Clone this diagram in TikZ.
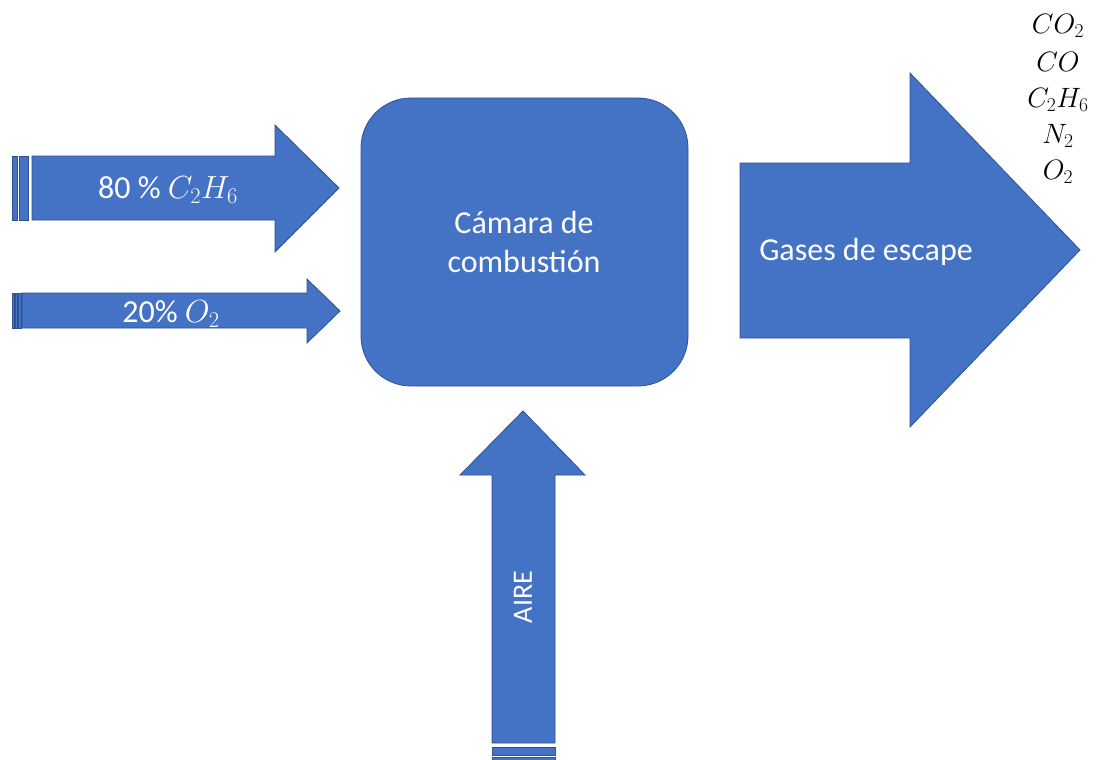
\documentclass[tikz,border=0pt]{standalone}
\usepackage{fix-cm}
\usepackage{fontspec}
\setmainfont{Carlito}
\DeclareMathSizes{32}{32}{22.4}{16}
\DeclareMathSizes{28}{28}{19.6}{14}
\definecolor{fillblue}{HTML}{4472C4}
\definecolor{edgeblue}{HTML}{2F528F}
\begin{document}
\begin{tikzpicture}[x=1pt,y=-1pt,
  bluepart/.style={fill=fillblue,draw=edgeblue,line width=0.8pt,line join=miter},
  wtext/.style={text=white,inner sep=0pt,font=\fontsize{32}{39}\selectfont,align=center},
  chem/.style={inner sep=0pt,font=\fontsize{28}{34}\selectfont}]
\useasboundingbox (0,0) rectangle (1096,760);
% striped arrow 1
\path[bluepart] (12,156) rectangle (17,220);
\path[bluepart] (19,156) rectangle (28,220);
\path[bluepart] (32,156) -- (275,156) -- (275,125) -- (339,188) -- (275,252) -- (275,220) -- (32,220) -- cycle;
\node[wtext] (lab1) at (168,190) {80 \% $C_2H_6$};
% striped arrow 2
\path[bluepart] (12,293) rectangle (14,328);
\path[bluepart] (15,293) rectangle (17,328);
\path[bluepart] (18,293) rectangle (21,328);
\path[bluepart] (22,293) -- (307,293) -- (307,279) -- (340,311) -- (307,343) -- (307,328) -- (22,328) -- cycle;
\node[wtext] (lab2) at (171,314) {20\% $O_2$};
% chamber
\path[bluepart,rounded corners=50pt] (361,98) rectangle (688,386);
\node[wtext] (cam) at (524,242) {Cámara de\\combustión};
% exhaust arrow
\path[bluepart] (740,163) -- (910,163) -- (910,73) -- (1080,250) -- (910,427) -- (910,338) -- (740,338) -- cycle;
\node[wtext] (gas) at (866,252) {Gases de escape};
% air arrow
\path[bluepart] (492,743) -- (492,475) -- (460,475) -- (523,411) -- (585,475) -- (555,475) -- (555,743) -- cycle;
\path[bluepart] (492,747) rectangle (555,755);
\path[bluepart] (492,757) rectangle (555,764);
\node[wtext,rotate=90,font=\fontsize{28}{34}\selectfont] (aire) at (523,597) {AIRE};
% products
\node[chem] (p1) at (1058,26) {$CO_2$};
\node[chem] (p2) at (1058,62) {$CO$};
\node[chem] (p3) at (1058,100) {$C_2H_6$};
\node[chem] (p4) at (1058,136) {$N_2$};
\node[chem] (p5) at (1058,172) {$O_2$};
\end{tikzpicture}
\end{document}
